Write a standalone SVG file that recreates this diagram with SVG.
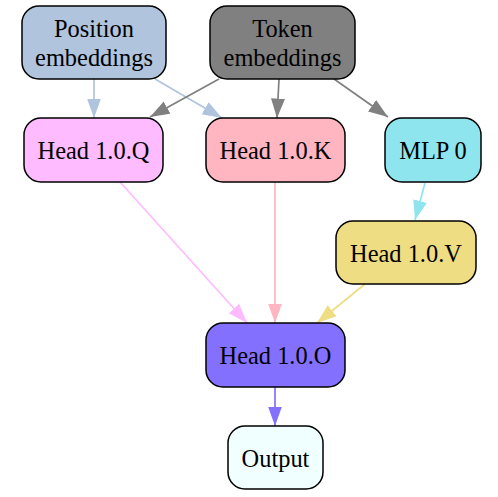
<svg xmlns="http://www.w3.org/2000/svg" width="498" height="497" viewBox="0 0 498 497">
<style>
.node rect{stroke:#000;stroke-width:1.5}
.node text{font-family:"Liberation Serif","Times New Roman",serif;font-size:24.4px;text-anchor:middle;fill:#000}
.edges path{fill:none;stroke-width:1.7}
</style>
<defs>
<marker id="a-pos" markerUnits="userSpaceOnUse" markerWidth="20" markerHeight="15" refX="19.5" refY="7.5" orient="auto"><path d="M0,0.5 L19.5,7.5 L0,14.5 z" fill="#b0c4de"/></marker>
<marker id="a-tok" markerUnits="userSpaceOnUse" markerWidth="20" markerHeight="15" refX="19.5" refY="7.5" orient="auto"><path d="M0,0.5 L19.5,7.5 L0,14.5 z" fill="#808080"/></marker>
<marker id="a-q" markerUnits="userSpaceOnUse" markerWidth="20" markerHeight="15" refX="19.5" refY="7.5" orient="auto"><path d="M0,0.5 L19.5,7.5 L0,14.5 z" fill="#ffbbff"/></marker>
<marker id="a-k" markerUnits="userSpaceOnUse" markerWidth="20" markerHeight="15" refX="19.5" refY="7.5" orient="auto"><path d="M0,0.5 L19.5,7.5 L0,14.5 z" fill="#ffb6c1"/></marker>
<marker id="a-mlp" markerUnits="userSpaceOnUse" markerWidth="20" markerHeight="15" refX="19.5" refY="7.5" orient="auto"><path d="M0,0.5 L19.5,7.5 L0,14.5 z" fill="#8ee5ee"/></marker>
<marker id="a-v" markerUnits="userSpaceOnUse" markerWidth="20" markerHeight="15" refX="19.5" refY="7.5" orient="auto"><path d="M0,0.5 L19.5,7.5 L0,14.5 z" fill="#eedd82"/></marker>
<marker id="a-o" markerUnits="userSpaceOnUse" markerWidth="20" markerHeight="15" refX="19.5" refY="7.5" orient="auto"><path d="M0,0.5 L19.5,7.5 L0,14.5 z" fill="#8470ff"/></marker>
</defs>
<rect width="498" height="497" fill="#fff"/>
<g id="edges" class="edges">
<path d="M94,79 L94,118" stroke="#b0c4de" marker-end="url(#a-pos)"/>
<path d="M155,79 L222,118" stroke="#b0c4de" marker-end="url(#a-pos)"/>
<path d="M219,79 L150,117" stroke="#808080" marker-end="url(#a-tok)"/>
<path d="M279,79 L277,118" stroke="#808080" marker-end="url(#a-tok)"/>
<path d="M334,79 L388,117" stroke="#808080" marker-end="url(#a-tok)"/>
<path d="M425,183 L415,220" stroke="#8ee5ee" marker-end="url(#a-mlp)"/>
<path d="M120,182 L247,323" stroke="#ffbbff" marker-end="url(#a-q)"/>
<path d="M275,182 L275,323" stroke="#ffb6c1" marker-end="url(#a-k)"/>
<path d="M365,284 L317,323" stroke="#eedd82" marker-end="url(#a-v)"/>
<path d="M275,387 L275,426" stroke="#8470ff" marker-end="url(#a-o)"/>
</g>
<g id="pos" class="node"><rect x="22" y="6" width="144" height="73" rx="17" fill="#b0c4de"/><text x="94" y="37">Position</text><text x="94" y="66">embeddings</text></g>
<g id="tok" class="node"><rect x="210" y="6" width="145" height="73" rx="17" fill="#808080"/><text x="282.5" y="37">Token</text><text x="282.5" y="66">embeddings</text></g>
<g id="q" class="node"><rect x="24" y="118" width="139" height="64" rx="17" fill="#ffbbff"/><text x="93.5" y="158.5">Head 1.0.Q</text></g>
<g id="k" class="node"><rect x="206" y="118" width="139" height="64" rx="17" fill="#ffb6c1"/><text x="275.5" y="158.5">Head 1.0.K</text></g>
<g id="mlp" class="node"><rect x="385" y="118" width="96" height="64" rx="17" fill="#8ee5ee"/><text x="433" y="158.5">MLP 0</text></g>
<g id="v" class="node"><rect x="336" y="221" width="140" height="63" rx="17" fill="#eedd82"/><text x="406" y="262">Head 1.0.V</text></g>
<g id="o" class="node"><rect x="206" y="323" width="139" height="64" rx="17" fill="#8470ff"/><text x="275.5" y="364">Head 1.0.O</text></g>
<g id="out" class="node"><rect x="228" y="426" width="95" height="63" rx="17" fill="#f0ffff"/><text x="275.5" y="466.5">Output</text></g>
</svg>
